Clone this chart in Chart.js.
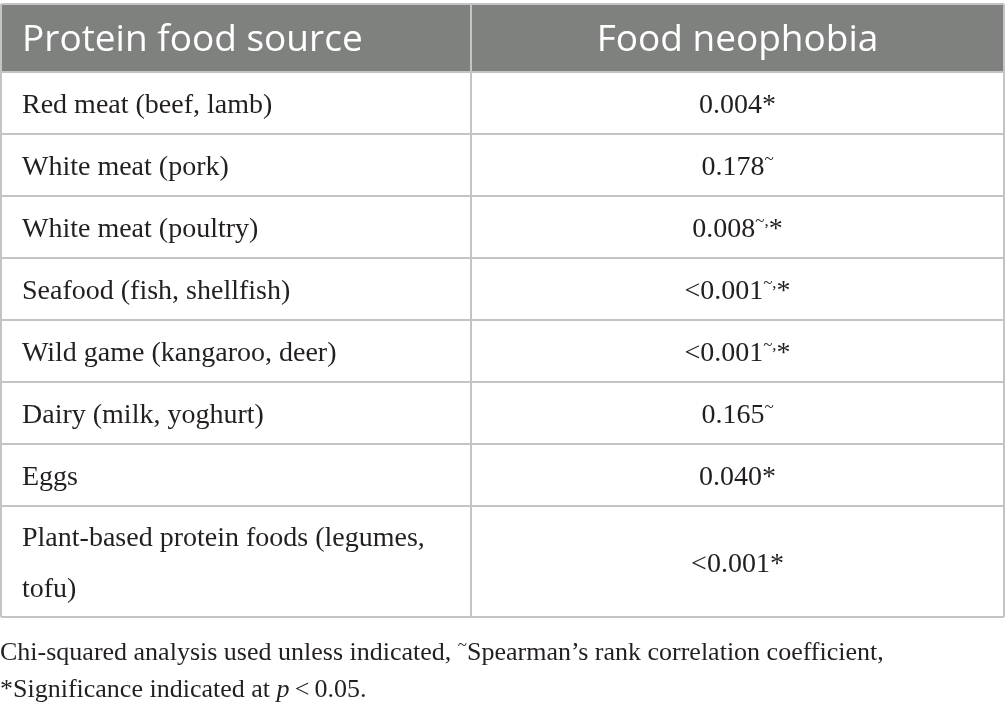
<!DOCTYPE html>
<html>
<head>
<meta charset="utf-8">
<script src="https://cdn.jsdelivr.net/npm/chart.js@4.4.1/dist/chart.umd.min.js"></script>
<style>
    html, body { margin: 0; padding: 0; background: #ffffff; }
    #wrap { width: 1005px; height: 709px; position: relative; }
</style>
</head>
<body>
<div id="wrap"><canvas id="tableCanvas"></canvas></div>
<script>
// Table content
const headers = ['Protein food source', 'Food neophobia'];
const foodSources = [
    'Red meat (beef, lamb)',
    'White meat (pork)',
    'White meat (poultry)',
    'Seafood (fish, shellfish)',
    'Wild game (kangaroo, deer)',
    'Dairy (milk, yoghurt)',
    'Eggs',
    'Plant-based protein foods (legumes, tofu)'
];
const pValues = ['0.004', '0.178', '0.008', '<0.001', '<0.001', '0.165', '0.040', '<0.001'];
const markers = ['*', '~', '~,*', '~,*', '~,*', '~', '*', '*'];

// Layout / style
const HEADER_FONT = '37px "Open Sans"';
const BODY_SIZE = 28;
const BODY_FONT = BODY_SIZE + 'px "Liberation Serif"';
const NOTE_SIZE = 26;
const TEXT_COLOR = '#231f20';
const HEADER_BG = '#7f817f';
const LINE_COLOR = '#c4c4c4';
const COL_SPLIT = 0.4686;
const CELL_PAD = 21;
const HEADER_H = 68.5;
const ROW_H = 62;
const LINE_STEP = 51;
const EXTRA_LINE_H = 49;

// wrap the first column text to the column width
const measureCtx = document.createElement('canvas').getContext('2d');
measureCtx.font = BODY_FONT;
const firstColWidth = 1003 * COL_SPLIT - 2 * CELL_PAD;

function wrapText(text) {
    const words = text.split(' ');
    const lines = [];
    let cur = '';
    words.forEach(w => {
        const test = cur ? cur + ' ' + w : w;
        if (cur && measureCtx.measureText(test).width > firstColWidth) {
            lines.push(cur);
            cur = w;
        } else {
            cur = test;
        }
    });
    if (cur) lines.push(cur);
    return lines;
}

const wrapped = foodSources.map(wrapText);

// row edges along the y scale
const rowEdges = [0, HEADER_H];
wrapped.forEach(lines => {
    const last = rowEdges[rowEdges.length - 1];
    rowEdges.push(last + ROW_H + (lines.length - 1) * EXTRA_LINE_H);
});
const tableBottom = rowEdges[rowEdges.length - 1];

function drawWithSup(ctx, parts, x, y, align) {
    // parts: [{text, sup, italic}]
    const fonts = parts.map(p => {
        if (p.sup) return Math.round(BODY_SIZE * 0.62) + 'px "Liberation Serif"';
        return (p.italic ? 'italic ' : '') + p.size + 'px "Liberation Serif"';
    });
    let total = 0;
    const widths = parts.map((p, i) => {
        ctx.font = fonts[i];
        const w = ctx.measureText(p.text).width;
        total += w;
        return w;
    });
    let cx = align === 'center' ? x - total / 2 : x;
    parts.forEach((p, i) => {
        ctx.font = fonts[i];
        ctx.textAlign = 'left';
        ctx.fillText(p.text, cx, p.sup ? y - p.raise : y);
        cx += widths[i];
    });
}

function markerParts(m) {
    const parts = [];
    for (const ch of m) {
        if (ch === '*') parts.push({ text: '*', size: BODY_SIZE });
        else parts.push({ text: ch, sup: true, raise: 11 });
    }
    return parts;
}

const tablePlugin = {
    id: 'tablePlugin',
    beforeDraw(chart) {
        const { ctx, scales: { x, y } } = chart;
        ctx.save();
        ctx.fillStyle = HEADER_BG;
        const top = y.getPixelForValue(rowEdges[0]);
        const bot = y.getPixelForValue(rowEdges[1]);
        ctx.fillRect(x.getPixelForValue(0), top, x.getPixelForValue(1) - x.getPixelForValue(0), bot - top);
        ctx.restore();
    },
    afterDraw(chart) {
        const { ctx, scales: { x, y }, chartArea } = chart;
        const leftX = x.getPixelForValue(0) + CELL_PAD;
        const valueX = x.getPixelForValue((COL_SPLIT + 1) / 2);
        ctx.save();
        ctx.textBaseline = 'alphabetic';

        // header
        const hMid = (y.getPixelForValue(rowEdges[0]) + y.getPixelForValue(rowEdges[1])) / 2;
        ctx.fillStyle = '#ffffff';
        ctx.font = HEADER_FONT;
        ctx.textAlign = 'left';
        ctx.fillText(headers[0], leftX, hMid + 13);
        ctx.textAlign = 'center';
        ctx.fillText(headers[1], valueX, hMid + 13);

        // body rows
        ctx.fillStyle = TEXT_COLOR;
        wrapped.forEach((lines, i) => {
            const mid = (y.getPixelForValue(rowEdges[i + 1]) + y.getPixelForValue(rowEdges[i + 2])) / 2;
            ctx.font = BODY_FONT;
            ctx.textAlign = 'left';
            lines.forEach((line, k) => {
                ctx.fillText(line, leftX, mid + 10 + (k - (lines.length - 1) / 2) * LINE_STEP);
            });
            const parts = [{ text: pValues[i], size: BODY_SIZE }].concat(markerParts(markers[i]));
            drawWithSup(ctx, parts, valueX, mid + 10, 'center');
        });

        // footnote
        const noteX = chartArea.left - 1;
        const b1 = chartArea.bottom + 43;
        const b2 = chartArea.bottom + 80;
        const n = NOTE_SIZE;
        drawWithSup(ctx, [
            { text: 'Chi-squared analysis used unless indicated, ', size: n },
            { text: '~', sup: true, raise: 10 },
            { text: 'Spearman\u2019s rank correlation coefficient,', size: n }
        ], noteX, b1, 'left');
        drawWithSup(ctx, [
            { text: '*Significance indicated at ', size: n },
            { text: 'p', size: n, italic: true },
            { text: '\u2009<\u20090.05.', size: n }
        ], noteX, b2, 'left');
        ctx.restore();
    }
};

new Chart(document.getElementById('tableCanvas'), {
    type: 'scatter',
    data: { datasets: [{ data: [], showLine: false }] },
    options: {
        responsive: true,
        maintainAspectRatio: false,
        animation: false,
        events: [],
        layout: { padding: { top: 4, bottom: 92, left: 1, right: 1 } },
        plugins: { legend: { display: false }, tooltip: { enabled: false } },
        scales: {
            x: {
                type: 'linear',
                min: 0,
                max: 1,
                afterBuildTicks: scale => { scale.ticks = [0, COL_SPLIT, 1].map(v => ({ value: v })); },
                ticks: { display: false },
                grid: { color: LINE_COLOR, lineWidth: 2, drawTicks: false },
                border: { display: false }
            },
            y: {
                type: 'linear',
                reverse: true,
                min: 0,
                max: tableBottom,
                afterBuildTicks: scale => { scale.ticks = rowEdges.map(v => ({ value: v })); },
                ticks: { display: false },
                grid: { color: LINE_COLOR, lineWidth: 2, drawTicks: false },
                border: { display: false }
            }
        }
    },
    plugins: [tablePlugin]
});
</script>
</body>
</html>
